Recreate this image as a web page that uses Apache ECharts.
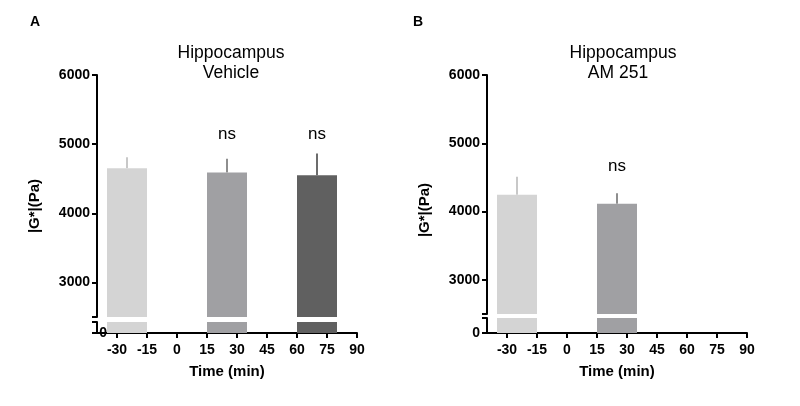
<!DOCTYPE html>
<html><head><meta charset="utf-8">
<script src="https://cdn.jsdelivr.net/npm/echarts@6/dist/echarts.min.js"></script>
<style>html,body{margin:0;padding:0;background:#fff}#c{width:800px;height:406px}</style>
</head><body><div id="c"></div>
<script>
// ---- data ----
const xTicks = [-30, -15, 0, 15, 30, 45, 60, 75, 90];
const yTickLabels = [3000, 4000, 5000, 6000];
const yBreakLow = 2500;          // upper segment starts here
const lowSegMax = 1;             // lower segment (0 .. break)
const barStartA = [-35, 15, 60];
const barEndA = [-15, 35, 80];
const meanA = [4650, 4590, 4550];
const semA = [160, 200, 315];
const nsXA = [25, 70];
const nsYA = [5135, 5135];
const barStartB = [-35, 15];
const barEndB = [-15, 35];
const meanB = [4245, 4115];
const semB = [265, 155];
const nsXB = [25];
const nsYB = [4670];
const titlesA = ['Hippocampus', 'Vehicle'];
const titlesB = ['Hippocampus', 'AM 251'];
const yName = '|G*|(Pa)';
const xName = 'Time (min)';
const barColors = ['#d4d4d4', '#a0a0a3', '#606060'];
const errColors = ['#c8c8c8', '#8e8e8e', '#6c6c6c'];

const FF = '"Liberation Sans", Arial, sans-serif';
const chart = echarts.init(document.getElementById('c'), null, {renderer: 'canvas'});

function rectItem(params, api) {
  const p0 = api.coord([api.value(0), api.value(3)]);
  const p1 = api.coord([api.value(1), api.value(2)]);
  return {type: 'rect', shape: {x: p0[0], y: p0[1], width: p1[0] - p0[0], height: p1[1] - p0[1]},
    style: {fill: barColors[api.value(4)]}};
}
function errItem(params, api) {
  const a = api.coord([api.value(0), api.value(1)]);
  const b = api.coord([api.value(0), api.value(2)]);
  return {type: 'line', shape: {x1: a[0], y1: a[1], x2: b[0], y2: b[1]},
    style: {stroke: errColors[api.value(3)], lineWidth: 2}};
}
function nsItem(params, api) {
  const p = api.coord([api.value(0), api.value(1)]);
  return {type: 'text', x: p[0], y: p[1],
    style: {text: 'ns', font: '17px ' + FF, fill: '#000', align: 'center', verticalAlign: 'middle'}};
}

function upperData(s, e, m) { return s.map((v, i) => [v, e[i], yBreakLow, m[i], i]); }
function lowerData(s, e) { return s.map((v, i) => [v, e[i], 0, lowSegMax, i]); }
function errData(s, e, m, se) { return s.map((v, i) => [(v + e[i]) / 2, m[i], m[i] + se[i], i]); }
function nsData(xs, ys) { return xs.map((v, i) => [v, ys[i]]); }

const axisLine = {show: true, onZero: false, lineStyle: {color: '#000', width: 2}};
const tick = (vals) => ({show: true, length: 5, lineStyle: {color: '#000', width: 2}, customValues: vals});
const lab = (vals, extra) => Object.assign({show: true, color: '#000', fontWeight: 'bold', fontSize: 14, fontFamily: FF,
  customValues: vals, formatter: (v) => String(v)}, extra || {});

function xAxes(gi, show) {
  return {type: 'value', gridIndex: gi, min: -40, max: 90, show: show,
    axisLine: axisLine, axisTick: tick(xTicks), axisLabel: lab(xTicks, {margin: 10}),
    splitLine: {show: false},
    name: show ? xName : '', nameLocation: 'middle', nameGap: 31,
    nameTextStyle: {color: '#000', fontWeight: 'bold', fontSize: 15, fontFamily: FF}};
}
function yUpper(gi, max) {
  return {type: 'value', gridIndex: gi, min: yBreakLow, max: max,
    axisLine: axisLine, axisTick: tick([yBreakLow].concat(yTickLabels)), axisLabel: lab(yTickLabels, {margin: 7}),
    splitLine: {show: false}};
}
function yLower(gi, labMargin) {
  return {type: 'value', gridIndex: gi, min: 0, max: lowSegMax,
    axisLine: axisLine, axisTick: tick([0, lowSegMax]), axisLabel: lab([0], {margin: labMargin}),
    splitLine: {show: false}};
}
const txt = (t, x, y, font, rot) => ({type: 'text', x: x, y: y, rotation: rot || 0,
  style: {text: t, font: font, fill: '#000', align: 'center', verticalAlign: 'middle'}});

const option = {
  animation: false,
  backgroundColor: '#fff',
  grid: [
    {left: 97, width: 260, top: 75, height: 242},
    {left: 97, width: 260, top: 322, height: 11},
    {left: 487, width: 260, top: 75, height: 239},
    {left: 487, width: 260, top: 318, height: 15}
  ],
  xAxis: [xAxes(0, false), xAxes(1, true), xAxes(2, false), xAxes(3, true)],
  yAxis: [yUpper(0, 6000), yLower(1, -10), yUpper(2, 6000), yLower(3, 7)],
  series: [
    {type: 'custom', xAxisIndex: 0, yAxisIndex: 0, renderItem: errItem, data: errData(barStartA, barEndA, meanA, semA)},
    {type: 'custom', xAxisIndex: 0, yAxisIndex: 0, renderItem: rectItem, data: upperData(barStartA, barEndA, meanA)},
    {type: 'custom', xAxisIndex: 1, yAxisIndex: 1, renderItem: rectItem, data: lowerData(barStartA, barEndA)},
    {type: 'custom', xAxisIndex: 0, yAxisIndex: 0, renderItem: nsItem, data: nsData(nsXA, nsYA)},
    {type: 'custom', xAxisIndex: 2, yAxisIndex: 2, renderItem: errItem, data: errData(barStartB, barEndB, meanB, semB)},
    {type: 'custom', xAxisIndex: 2, yAxisIndex: 2, renderItem: rectItem, data: upperData(barStartB, barEndB, meanB)},
    {type: 'custom', xAxisIndex: 3, yAxisIndex: 3, renderItem: rectItem, data: lowerData(barStartB, barEndB)},
    {type: 'custom', xAxisIndex: 2, yAxisIndex: 2, renderItem: nsItem, data: nsData(nsXB, nsYB)}
  ],
  graphic: [
    txt('A', 35, 22, 'bold 14px ' + FF),
    txt('B', 418, 22, 'bold 14px ' + FF),
    txt(titlesA[0], 231, 53, '17.5px ' + FF),
    txt(titlesA[1], 231, 73, '17.5px ' + FF),
    txt(titlesB[0], 623, 53, '17.5px ' + FF),
    txt(titlesB[1], 618, 73, '17.5px ' + FF),
    txt(yName, 35, 206, 'bold 15px ' + FF, Math.PI / 2),
    txt(yName, 425, 210, 'bold 15px ' + FF, Math.PI / 2)
  ]
};
chart.setOption(option);
</script>
</body></html>
